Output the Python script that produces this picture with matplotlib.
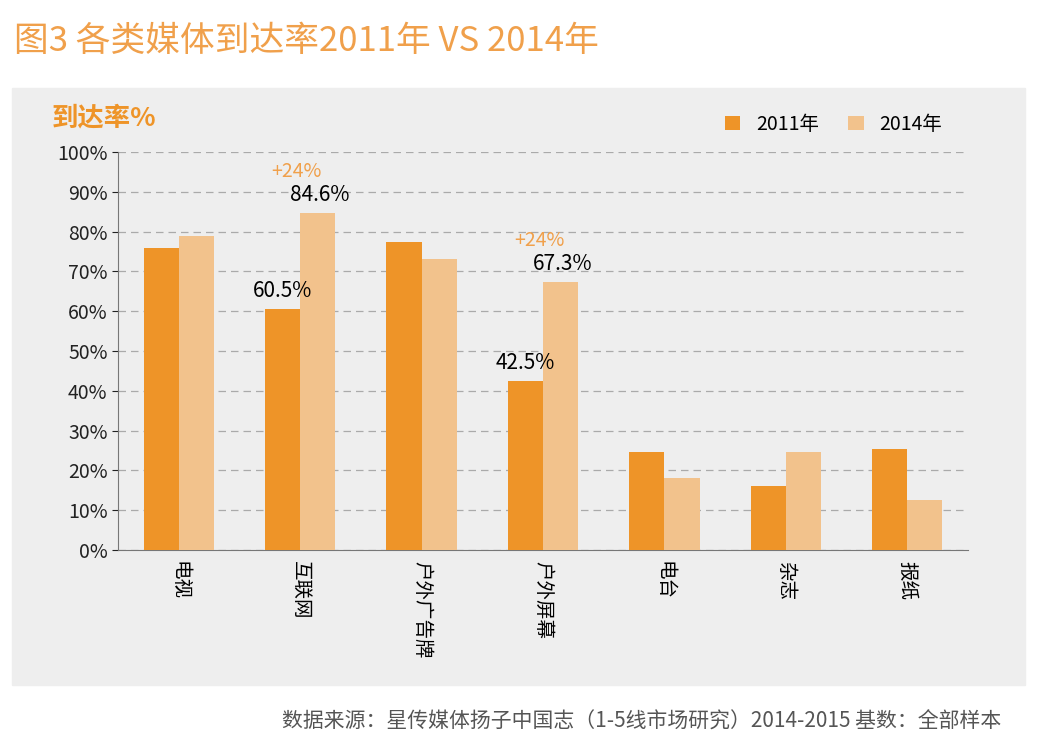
import numpy as np
import matplotlib.pyplot as plt
from matplotlib.patches import Rectangle

plt.rcParams['font.family'] = ['Noto Sans CJK SC', 'DejaVu Sans']

categories = ['电视', '互联网', '户外广告牌', '户外屏幕', '电台', '杂志', '报纸']
reach_2011 = [76, 60.5, 77.5, 42.5, 24.5, 16, 25.5]
reach_2014 = [79, 84.6, 73, 67.3, 18, 24.5, 12.5]
series_names = ['2011年', '2014年']

c_dark = '#EE9428'
c_light = '#F2C28C'
c_title = '#F0A04B'

fig = plt.figure(figsize=(10.48, 7.52), dpi=100)
fig.patch.set_facecolor('white')
# gray panel behind the chart
fig.patches.append(Rectangle((12/1048, 1-685/752), 1013/1048, 597/752,
                             transform=fig.transFigure, color='#EEEEEE', zorder=-10))
fig.text(14/1048, 1-42/752, '图3 各类媒体到达率2011年 VS 2014年', color=c_title,
         fontsize=25, va='center')
fig.text(52/1048, 1-118/752, '到达率%', color=c_dark, fontsize=19,
         fontweight='bold', va='center')
fig.text(0.955, 1-722/752, '数据来源：星传媒体扬子中国志（1-5线市场研究）2014-2015 基数：全部样本',
         color='#555555', fontsize=15, ha='right', va='center')

ax = fig.add_axes([118/1048, 1-550/752, 850/1048, 398/752])
ax.set_zorder(5)
ax.set_facecolor('none')
x = np.arange(len(categories))
w = 0.29
ax.bar(x - w/2, reach_2011, w, color=c_dark, label=series_names[0], zorder=3)
ax.bar(x + w/2, reach_2014, w, color=c_light, label=series_names[1], zorder=3)

ax.set_xlim(-0.5, len(categories) - 0.5)
ax.set_ylim(0, 100)
ax.set_yticks(range(0, 101, 10))
ax.set_yticklabels([f'{v}%' for v in range(0, 101, 10)], fontsize=14)
ax.yaxis.grid(True, linestyle=(0, (6, 4)), color='#AAAAAA', linewidth=0.9, zorder=0)
for s in ['top', 'right']:
    ax.spines[s].set_visible(False)
ax.spines['left'].set_color('#777777')
ax.spines['bottom'].set_color('#777777')
ax.tick_params(axis='y', length=4, colors='#222222')
ax.set_xticks(x)
ax.set_xticklabels(categories, rotation=-90, fontsize=14, va='top')
ax.tick_params(axis='x', length=0, pad=8)

for i in [1, 3]:
    ax.text(i - w/2, reach_2011[i] + 3, f'{reach_2011[i]}%', ha='center', fontsize=15)
    ax.text(i + w/2 + 0.02, reach_2014[i] + 3, f'{reach_2014[i]}%', ha='center', fontsize=15)
    ax.text(i - 0.03, reach_2014[i] + 9, '+24%', ha='center', fontsize=14, color=c_title)

ax.legend(loc='upper right', bbox_to_anchor=(0.99, 1.14), ncol=2, frameon=False,
          fontsize=14, handlelength=0.8, handleheight=0.8, columnspacing=1.5)

fig.savefig('out.png', dpi=100)
